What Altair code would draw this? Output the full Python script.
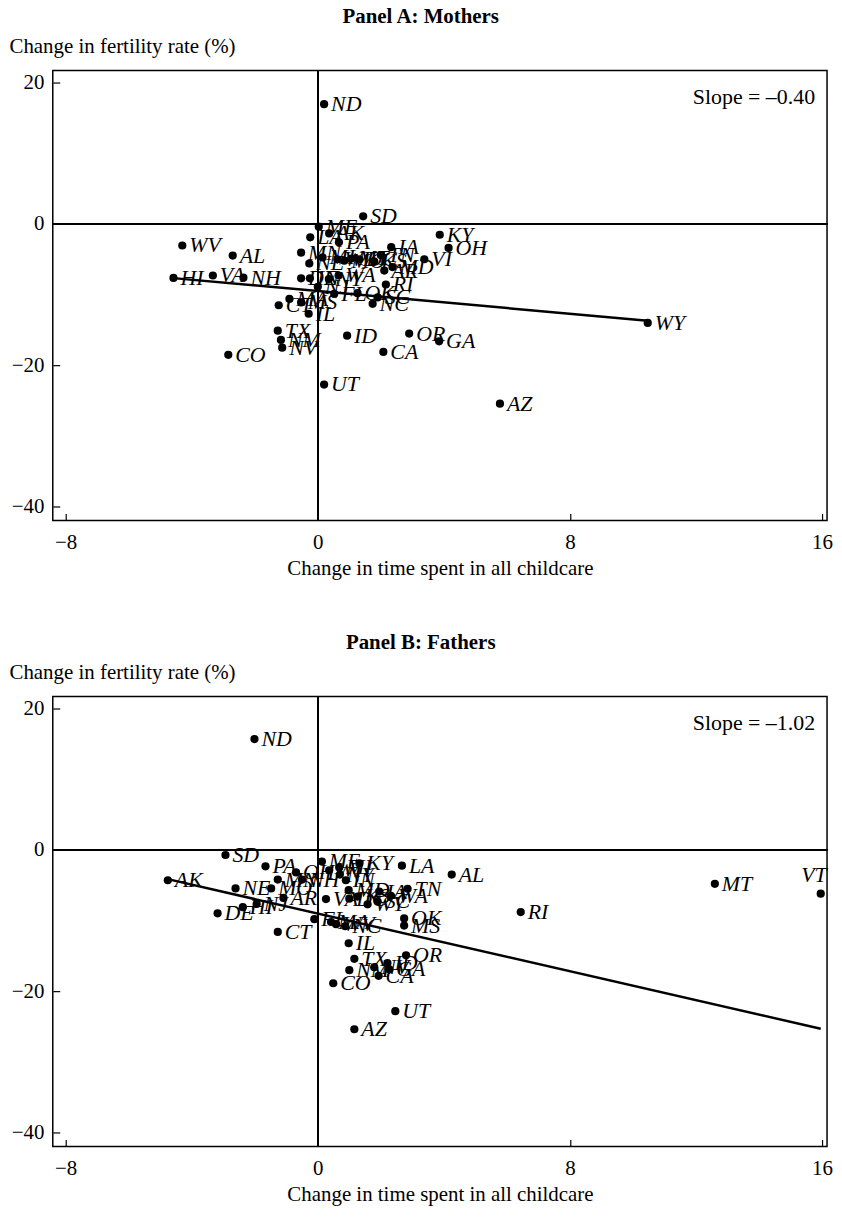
import altair as alt
import pandas as pd

FONT = "Liberation Serif"

# ---------------- Panel A: Mothers ----------------
states_a = ["ND", "SD", "KY", "OH", "IA", "VI", "WV", "AL", "HI", "VA", "NH",
            "ME", "AK", "LA", "PA", "MN", "MI", "NE", "WI", "MO", "MT", "DC",
            "TN", "KS", "IN", "DE", "NJ", "NY", "WA", "FL", "OK", "SC", "RI",
            "NC", "AR", "MD", "CT", "MA", "MS", "IL", "TX", "NM", "NV", "ID",
            "CA", "OR", "GA", "CO", "UT", "AZ", "WY"]
x_a = [0.20, 1.44, 3.87, 4.15, 2.33, 3.38, -4.30, -2.70, -4.58, -3.33, -2.36,
       0.03, 0.36, -0.24, 0.67, -0.53, 0.15, -0.27, 0.62, 0.84, 1.06, 1.32,
       2.00, 1.79, -0.25, -0.53, 0.00, 0.35, 0.66, 0.52, 1.26, 1.90, 2.16,
       1.74, 2.11, 2.37, -1.24, -0.90, -0.53, -0.29, -1.27, -1.17, -1.13, 0.93,
       2.08, 2.90, 3.85, -2.84, 0.20, 5.78, 10.47]
y_a = [16.9, 1.07, -1.54, -3.4, -3.3, -5.0, -3.06, -4.48, -7.64, -7.3, -7.6,
       -0.4, -1.35, -1.9, -2.6, -4.06, -4.75, -5.6, -5.0, -5.2, -4.9, -5.0,
       -4.4, -5.3, -7.7, -7.7, -8.9, -7.8, -7.3, -9.9, -9.8, -10.4, -8.57,
       -11.3, -6.6, -6.1, -11.5, -10.6, -11.1, -12.7, -15.1, -16.4, -17.5, -15.8,
       -18.1, -15.5, -16.6, -18.5, -22.7, -25.4, -14.0]

# ---------------- Panel B: Fathers ----------------
states_b = ["ND", "SD", "PA", "AK", "NE", "MO", "DE", "HI", "NJ", "AR", "CT",
            "ME", "KY", "LA", "AL", "TN", "WA", "VA", "OK", "MS", "IL", "TX",
            "NM", "CA", "CO", "UT", "AZ", "MT", "VT", "RI", "OR", "ID", "GA",
            "NV", "NC", "MN", "OH", "NH", "WI", "IN", "MD", "NY", "KS", "WY",
            "IA", "SC", "FL", "MA", "WV", "MI", "DC"]
x_b = [-2.01, -2.93, -1.66, -4.76, -2.61, -1.48, -3.18, -2.38, -1.94, -1.09, -1.27,
       0.13, 1.32, 2.67, 4.25, 2.85, 2.32, 0.26, 2.74, 2.74, 0.98, 1.16,
       1.00, 1.93, 0.49, 2.46, 1.16, 12.60, 15.96, 6.44, 2.80, 2.21, 2.27,
       1.79, 0.87, -1.27, -0.69, -0.50, 0.36, 0.89, 0.98, 0.70, 1.26, 1.58,
       1.95, 1.90, -0.11, 0.42, 0.58, 0.68, 1.00]
y_b = [15.65, -0.73, -2.33, -4.3, -5.45, -5.45, -8.97, -8.1, -7.65, -6.8, -11.6,
       -1.65, -1.92, -2.24, -3.5, -5.5, -6.5, -6.96, -9.7, -10.7, -13.2, -15.4,
       -17.0, -17.8, -18.85, -22.8, -25.35, -4.8, -6.2, -8.8, -14.9, -16.0, -16.9,
       -16.6, -10.8, -4.2, -3.2, -4.2, -2.9, -4.3, -5.7, -3.5, -6.6, -7.7,
       -5.9, -7.3, -9.8, -10.2, -10.5, -2.5, -6.9]

panel_titles = ["Panel A: Mothers", "Panel B: Fathers"]
slopes = [-0.40, -1.02]
intercepts = [-9.5, -9.0]
slope_labels = ["Slope = \u20130.40", "Slope = \u20131.02"]
# labels drawn above their point instead of to the right (edge of the panel)
above_labels = ["VT"]

x_ticks = [-8, 0, 8, 16]
y_ticks = [20, 0, -20, -40]
x_domain = [-8.41, 16.16]
y_domain = [-41.9, 21.65]

W, H = 778, 452


def panel(title, states, xs, ys, slope, intercept, slope_label):
    df = pd.DataFrame({"state": states, "x": xs, "y": ys})
    df["above"] = df["state"].isin(above_labels) & (df["x"] > 14)
    xmin, xmax = min(xs), max(xs)
    line_df = pd.DataFrame({"x": [xmin, xmax],
                            "y": [intercept + slope * xmin, intercept + slope * xmax]})
    lab_df = pd.DataFrame({"label": [slope_label]})

    xenc = alt.X("x:Q",
                 scale=alt.Scale(domain=x_domain, nice=False, zero=False),
                 axis=alt.Axis(values=x_ticks, title="Change in time spent in all childcare",
                               offset=-7, tickSize=7, labelPadding=11, titlePadding=5,
                               domain=False, grid=False, format="d"))
    yenc = alt.Y("y:Q",
                 scale=alt.Scale(domain=y_domain, nice=False, zero=False),
                 axis=alt.Axis(values=y_ticks, title="Change in fertility rate (%)",
                               offset=-7, tickSize=7, labelPadding=9,
                               domain=False, grid=False, format="d",
                               titleAngle=0, titleAlign="left", titleBaseline="middle",
                               titleX=-51, titleY=-24))

    base = alt.Chart(df)
    hline = alt.Chart(df).mark_rule(color="black", strokeWidth=1).encode(y=alt.datum(0))
    vline = alt.Chart(df).mark_rule(color="black", strokeWidth=1).encode(x=alt.datum(0))
    pts = base.mark_circle(size=68, color="black", opacity=1).encode(x=xenc, y=yenc)
    txt = base.transform_filter("!datum.above").mark_text(
        font=FONT, fontSize=22, fontStyle="italic", align="left",
        baseline="middle", dx=7, color="black").encode(x="x:Q", y="y:Q", text="state:N")
    txt_up = base.transform_filter("datum.above").mark_text(
        font=FONT, fontSize=22, fontStyle="italic", align="right",
        baseline="middle", dx=6, dy=-19, color="black").encode(x="x:Q", y="y:Q", text="state:N")
    fit = alt.Chart(line_df).mark_line(color="black", strokeWidth=2.5).encode(x="x:Q", y="y:Q")
    slope_txt = alt.Chart(lab_df).mark_text(font=FONT, fontSize=22, align="right",
                                            baseline="middle", color="black").encode(
        x=alt.value(W - 12), y=alt.value(27), text="label:N")

    return alt.layer(hline, vline, fit, pts, txt, txt_up, slope_txt).properties(
        width=W, height=H,
        title=alt.TitleParams(title, font=FONT, fontSize=21, fontWeight="bold",
                              anchor="middle", frame="bounds", offset=9, color="black"))


pa = panel(panel_titles[0], states_a, x_a, y_a, slopes[0], intercepts[0], slope_labels[0])
pb = panel(panel_titles[1], states_b, x_b, y_b, slopes[1], intercepts[1], slope_labels[1])

chart = alt.vconcat(pa, pb, spacing=52).properties(
    padding={"top": -6, "bottom": 0, "left": 0, "right": 0}
).configure_view(
    stroke="black", strokeWidth=1.5
).configure_axis(
    labelFont=FONT, titleFont=FONT, labelFontSize=21, titleFontSize=21,
    labelColor="black", titleColor="black", tickColor="black", tickWidth=1.2,
    titleFontWeight="normal"
)

chart.save("out.html", embed_options={"renderer": "svg", "actions": False})
